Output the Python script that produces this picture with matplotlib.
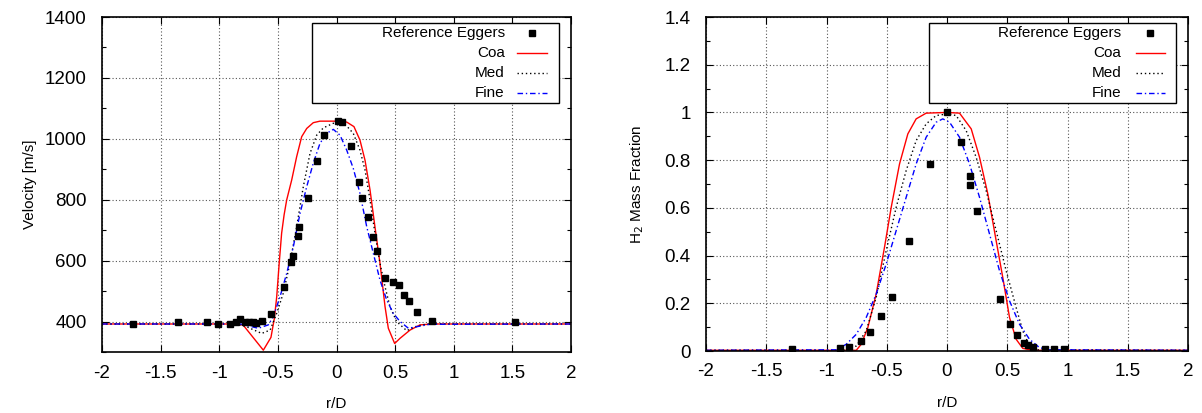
import matplotlib
matplotlib.use("Agg")
import matplotlib.pyplot as plt
import numpy as np
from matplotlib.patches import Rectangle
from matplotlib.lines import Line2D

plt.rcParams['font.family'] = ['Liberation Sans', 'DejaVu Sans']

# ---------------- Velocity data ----------------
ref_v_x = [-1.738, -1.354, -1.107, -1.013, -0.908, -0.857, -0.823, -0.780, -0.743, -0.709,
           -0.686, -0.638, -0.559, -0.445, -0.388, -0.368, -0.331, -0.317, -0.246, -0.169,
           -0.109, 0.010, 0.047, 0.121, 0.189, 0.217, 0.266, 0.309, 0.343, 0.416,
           0.479, 0.530, 0.578, 0.616, 0.687, 0.814, 1.520]
ref_v_y = [391, 399, 399, 393, 391, 399, 407, 399, 399, 399,
           396, 403, 426, 514, 596, 615, 681, 711, 807, 927,
           1012, 1059, 1055, 977, 859, 807, 744, 679, 633, 544,
           531, 520, 487, 468, 432, 403, 399]

coa_v_x = [-2.0, -0.85, -0.795, -0.624, -0.559, -0.530, -0.510, -0.489, -0.468, -0.447,
           -0.425, -0.382, -0.340, -0.297, -0.254, -0.198, -0.141, 0.0, 0.087, 0.149,
           0.200, 0.243, 0.286, 0.328, 0.371, 0.414, 0.442, 0.496, 0.542, 0.627,
           0.712, 0.823, 2.0]
coa_v_y = [392, 392, 388, 306, 348, 410, 481, 590, 690, 750,
           799, 865, 941, 1007, 1034, 1053, 1058, 1058, 1055, 1040,
           996, 930, 832, 711, 591, 449, 378, 328, 345, 372,
           389, 392, 392]

med_v_x = [-2.0, -0.85, -0.767, -0.638, -0.566, -0.510, -0.454, -0.397, -0.340, -0.283,
           -0.226, -0.169, -0.112, -0.027, 0.030, 0.087, 0.143, 0.200, 0.243, 0.286,
           0.328, 0.371, 0.414, 0.456, 0.513, 0.599, 0.670, 0.769, 2.0]
med_v_y = [392, 392, 383, 361, 372, 427, 493, 591, 711, 843,
           952, 1012, 1036, 1051, 1053, 1042, 1018, 963, 898, 799,
           690, 591, 514, 449, 400, 370, 383, 392, 392]

fine_v_x = [-2.0, -0.82, -0.667, -0.582, -0.539, -0.482, -0.425, -0.368, -0.311, -0.254,
            -0.198, -0.141, -0.084, -0.027, 0.030, 0.087, 0.143, 0.200, 0.258, 0.314,
            0.371, 0.428, 0.484, 0.542, 0.613, 0.684, 0.797, 2.0]
fine_v_y = [392, 392, 378, 389, 416, 481, 558, 646, 755, 843,
            920, 985, 1018, 1031, 1012, 963, 903, 821, 711, 624,
            536, 471, 427, 400, 378, 383, 391, 392]

# ---------------- H2 mass fraction data ----------------
ref_h_x = [-1.290, -0.884, -0.817, -0.712, -0.637, -0.546, -0.455, -0.314, -0.139, 0.001,
           0.118, 0.195, 0.195, 0.253, 0.436, 0.524, 0.577, 0.635, 0.674, 0.715,
           0.817, 0.884, 0.967]
ref_h_y = [0.007, 0.011, 0.018, 0.042, 0.081, 0.148, 0.228, 0.459, 0.782, 1.001,
           0.875, 0.732, 0.695, 0.585, 0.220, 0.115, 0.069, 0.035, 0.024, 0.017,
           0.007, 0.007, 0.007]

coa_h_x = [-2.0, -0.753, -0.712, -0.657, -0.588, -0.519, -0.463, -0.394, -0.325, -0.256,
           -0.173, 0.0, 0.104, 0.201, 0.270, 0.339, 0.408, 0.463, 0.519, 0.574,
           0.629, 0.71, 2.0]
coa_h_y = [0.003, 0.003, 0.028, 0.098, 0.238, 0.434, 0.602, 0.784, 0.910, 0.973,
           0.997, 1.000, 0.997, 0.931, 0.812, 0.658, 0.462, 0.308, 0.140, 0.049,
           0.011, 0.003, 0.003]

med_h_x = [-2.0, -0.837, -0.753, -0.671, -0.588, -0.505, -0.422, -0.339, -0.256, -0.173,
           -0.090, 0.007, 0.076, 0.159, 0.242, 0.325, 0.408, 0.491, 0.574, 0.629,
           0.685, 0.74, 2.0]
med_h_y = [0.003, 0.003, 0.021, 0.084, 0.224, 0.420, 0.602, 0.756, 0.882, 0.952,
           0.987, 0.994, 0.987, 0.924, 0.812, 0.672, 0.504, 0.336, 0.182, 0.084,
           0.021, 0.005, 0.003]

fine_h_x = [-2.0, -0.92, -0.837, -0.753, -0.671, -0.588, -0.505, -0.422, -0.339, -0.256,
            -0.173, -0.090, -0.035, 0.021, 0.104, 0.187, 0.270, 0.353, 0.436, 0.519,
            0.602, 0.685, 0.768, 0.85, 2.0]
fine_h_y = [0.003, 0.005, 0.028, 0.070, 0.140, 0.238, 0.364, 0.504, 0.644, 0.784,
            0.896, 0.959, 0.973, 0.959, 0.896, 0.784, 0.644, 0.490, 0.336, 0.210,
            0.112, 0.049, 0.014, 0.005, 0.003]

x_ticks = [-2, -1.5, -1, -0.5, 0, 0.5, 1, 1.5, 2]
x_tick_labels = ['-2', '-1.5', '-1', '-0.5', '0', '0.5', '1', '1.5', '2']
v_ticks = [400, 600, 800, 1000, 1200, 1400]
h_ticks = [0, 0.2, 0.4, 0.6, 0.8, 1.0, 1.2, 1.4]
h_tick_labels = ['0', '0.2', '0.4', '0.6', '0.8', '1', '1.2', '1.4']
legend_labels = ['Reference Eggers', 'Coa', 'Med', 'Fine']

W, H = 1202, 413
fig = plt.figure(figsize=(W / 100, H / 100), dpi=100)

def px_axes(x0, x1, y0, y1):
    return fig.add_axes([x0 / W, 1 - y1 / H, (x1 - x0) / W, (y1 - y0) / H])

ax1 = px_axes(102, 571, 17, 352)
ax2 = px_axes(706, 1188, 17, 351)

coa_style = dict(color='#ff0000', lw=1.0, ls='-')
med_style = dict(color='black', lw=1.0, ls=(0, (1, 2)))
fine_style = dict(color='#0000ff', lw=1.0, ls=(0, (4, 2, 1, 2)))
ref_style = dict(ls='none', marker='s', color='black', ms=4.3)

def style_axes(ax, yticks, ylabels, ylim, minor_step):
    ax.set_xlim(-2, 2)
    ax.set_ylim(*ylim)
    ax.set_xticks(x_ticks)
    ax.set_xticklabels(x_tick_labels)
    ax.set_yticks(yticks)
    ax.set_yticklabels(ylabels)
    minors = np.arange(ylim[0], ylim[1] + 1e-9, minor_step)
    ax.set_yticks([m for m in minors if min(abs(m - t) for t in yticks) > 1e-9], minor=True)
    ax.tick_params(which='both', direction='in', top=True, right=True, labelsize=13.5,
                   length=5, width=0.8, pad=9, colors='black')
    ax.tick_params(which='minor', length=3)
    ax.tick_params(axis='y', pad=11)
    ax.grid(True, which='major', color='#555555', ls=(0, (1, 2)), lw=0.8)
    for s in ax.spines.values():
        s.set_linewidth(1.2)
        s.set_color('black')
    ax.set_xlabel('r/D', fontsize=11, labelpad=11)

def draw_legend(ax, box, text_x, h0, h1, ys):
    ax.add_patch(Rectangle((box[0], box[2]), box[1] - box[0], box[3] - box[2],
                           transform=ax.transAxes, fill=True, facecolor='white',
                           edgecolor='black', lw=1.0, zorder=5, clip_on=False))
    styles = [None, coa_style, med_style, fine_style]
    for lab, y, st in zip(legend_labels, ys, styles):
        ax.text(text_x, y, lab, transform=ax.transAxes, ha='right', va='center',
                fontsize=11, zorder=6)
        if st is None:
            ax.add_line(Line2D([(h0 + h1) / 2], [y], transform=ax.transAxes, zorder=6,
                               **ref_style))
        else:
            ax.add_line(Line2D([h0, h1], [y, y], transform=ax.transAxes, zorder=6, **st))

# Left: velocity
ax1.plot(coa_v_x, coa_v_y, **coa_style)
ax1.plot(med_v_x, med_v_y, **med_style)
ax1.plot(fine_v_x, fine_v_y, **fine_style)
ax1.plot(ref_v_x, ref_v_y, **ref_style)
style_axes(ax1, v_ticks, [str(t) for t in v_ticks], (300, 1400), 100)
ax1.set_ylabel('Velocity [m/s]', fontsize=11, labelpad=6)
draw_legend(ax1, (0.448, 0.974, 0.743, 0.982), 0.859, 0.885, 0.949,
            [0.952, 0.893, 0.833, 0.773])

# Right: H2 mass fraction
ax2.plot(coa_h_x, coa_h_y, **coa_style)
ax2.plot(med_h_x, med_h_y, **med_style)
ax2.plot(fine_h_x, fine_h_y, **fine_style)
ax2.plot(ref_h_x, ref_h_y, **ref_style)
style_axes(ax2, h_ticks, h_tick_labels, (0, 1.4), 0.1)
ax2.set_ylabel('H$_2$ Mass Fraction', fontsize=11, labelpad=13)
draw_legend(ax2, (0.463, 0.975, 0.743, 0.982), 0.862, 0.892, 0.952,
            [0.952, 0.893, 0.833, 0.773])

fig.savefig('out.png', dpi=100)
